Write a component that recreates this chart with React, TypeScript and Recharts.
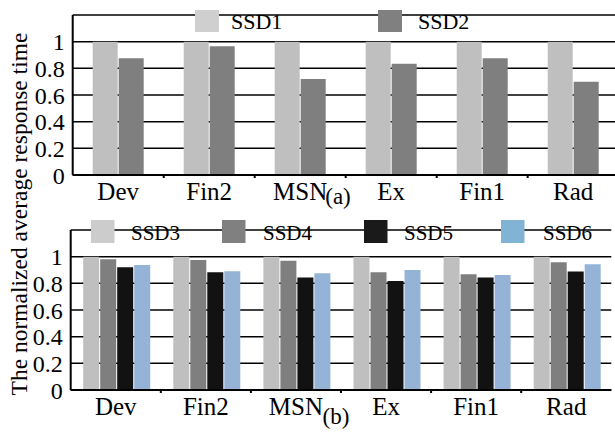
import { Bar, BarChart, CartesianGrid, XAxis, YAxis } from 'recharts'

const CATEGORIES = ['Dev', 'Fin2', 'MSN', 'Ex', 'Fin1', 'Rad']
const SSD1 = [1, 1, 1, 1, 1, 1]
const SSD2 = [0.875, 0.965, 0.72, 0.835, 0.875, 0.7]
const SSD3 = [1, 1, 1, 1, 1, 1]
const SSD4 = [0.98, 0.975, 0.97, 0.883, 0.868, 0.958]
const SSD5 = [0.92, 0.883, 0.843, 0.818, 0.843, 0.888]
const SSD6 = [0.938, 0.89, 0.875, 0.9, 0.863, 0.943]
const Y_TICKS = [0, 0.2, 0.4, 0.6, 0.8, 1]
const Y_MAX = 1.2

const dataA = CATEGORIES.map((name, i) => ({ name, SSD1: SSD1[i], SSD2: SSD2[i] }))
const dataB = CATEGORIES.map((name, i) => ({
  name,
  SSD3: SSD3[i],
  SSD4: SSD4[i],
  SSD5: SSD5[i],
  SSD6: SSD6[i],
}))

const FONT = '"Liberation Serif", "DejaVu Serif", serif'
const LIGHT = '#bfbfbf'
const MID = '#7f7f7f'
const DARK = '#121212'
const BLUE = '#95b3d7'

// legend swatches in the source are a touch lighter / more saturated than the bars
const legendA = [
  { label: 'SSD1', color: '#cfcfcf', x: 195, tx: 231 },
  { label: 'SSD2', color: '#808080', x: 378, tx: 418 },
]
const legendB = [
  { label: 'SSD3', color: '#cccccc', x: 91, tx: 131 },
  { label: 'SSD4', color: '#808080', x: 222, tx: 263 },
  { label: 'SSD5', color: '#1a1a1a', x: 364, tx: 404 },
  { label: 'SSD6', color: '#80b3d4', x: 501, tx: 543 },
]

function CatTick(props: any) {
  const { x, y, payload, band, last } = props
  return (
    <g>
      <text x={x} y={y} dy="0.71em" textAnchor="middle" fontSize={25} fill="#000" fontFamily={FONT}>
        {payload.value}
      </text>
      {payload.index < last && (
        <line x1={x + band / 2} x2={x + band / 2} y1={y - 7} y2={y - 4} stroke="#000" strokeWidth={2} />
      )}
    </g>
  )
}

function Panel({
  data,
  keys,
  colors,
  top,
  plotLeft,
  plotRight,
  catGap,
}: {
  data: any[]
  keys: string[]
  colors: string[]
  top: number
  plotLeft: number
  plotRight: number
  catGap: number
}) {
  const width = 630
  const band = (plotRight - plotLeft) / CATEGORIES.length
  return (
    <div style={{ position: 'absolute', left: 0, top }}>
      <BarChart
        width={width}
        height={212}
        data={data}
        margin={{ top: 15, right: width - plotRight, bottom: 0, left: 0 }}
        barCategoryGap={catGap}
        barGap={1}
      >
        <CartesianGrid vertical={false} stroke="#000" strokeWidth={1.5} />
        <XAxis
          dataKey="name"
          height={37}
          interval={0}
          axisLine={{ stroke: '#000', strokeWidth: 2 }}
          tickLine={false}
          tickSize={6}
          tickMargin={1}
          tick={<CatTick band={band} last={CATEGORIES.length - 1} />}
        />
        <YAxis
          width={plotLeft}
          domain={[0, Y_MAX]}
          ticks={Y_TICKS}
          interval={0}
          axisLine={{ stroke: '#000', strokeWidth: 2 }}
          tickLine={false}
          tick={{ fontSize: 24, fill: '#000', fontFamily: FONT }}
        />
        {keys.map((k, i) => (
          <Bar key={k} dataKey={k} fill={colors[i]} isAnimationActive={false} />
        ))}
      </BarChart>
    </div>
  )
}

export default function App() {
  return (
    <div
      style={{
        position: 'absolute',
        left: 0,
        top: 0,
        width: 615,
        height: 432,
        overflow: 'hidden',
        background: '#fff',
        fontFamily: FONT,
      }}
    >
      <Panel data={dataA} keys={['SSD1', 'SSD2']} colors={[LIGHT, MID]} top={0} plotLeft={72.7} plotRight={618.7} catGap={20} />
      <Panel
        data={dataB}
        keys={['SSD3', 'SSD4', 'SSD5', 'SSD6']}
        colors={[LIGHT, MID, DARK, BLUE]}
        top={215}
        plotLeft={70.7}
        plotRight={611.3}
        catGap={12.5}
      />
      <svg width={615} height={432} style={{ position: 'absolute', left: 0, top: 0, pointerEvents: 'none' }}>
        {legendA.map((l) => (
          <g key={l.label}>
            <rect x={l.x} y={10} width={24} height={22} fill={l.color} />
            <text x={l.tx} y={28.5} fontSize={22} fontFamily={FONT} fill="#000">
              {l.label}
            </text>
          </g>
        ))}
        {legendB.map((l) => (
          <g key={l.label}>
            <rect x={l.x} y={220} width={23.5} height={23} fill={l.color} />
            <text x={l.tx} y={239.5} fontSize={21} fontFamily={FONT} fill="#000">
              {l.label}
            </text>
          </g>
        ))}
        <text x={338} y={204} textAnchor="middle" fontSize={23} fontFamily={FONT} fill="#000">
          (a)
        </text>
        <text x={336} y={424} textAnchor="middle" fontSize={23} fontFamily={FONT} fill="#000">
          (b)
        </text>
        <text
          transform="rotate(-90)"
          x={-214}
          y={27}
          textAnchor="middle"
          fontSize={23.5}
          fontFamily={FONT}
          fill="#000"
        >
          The normalized average response time
        </text>
      </svg>
    </div>
  )
}
